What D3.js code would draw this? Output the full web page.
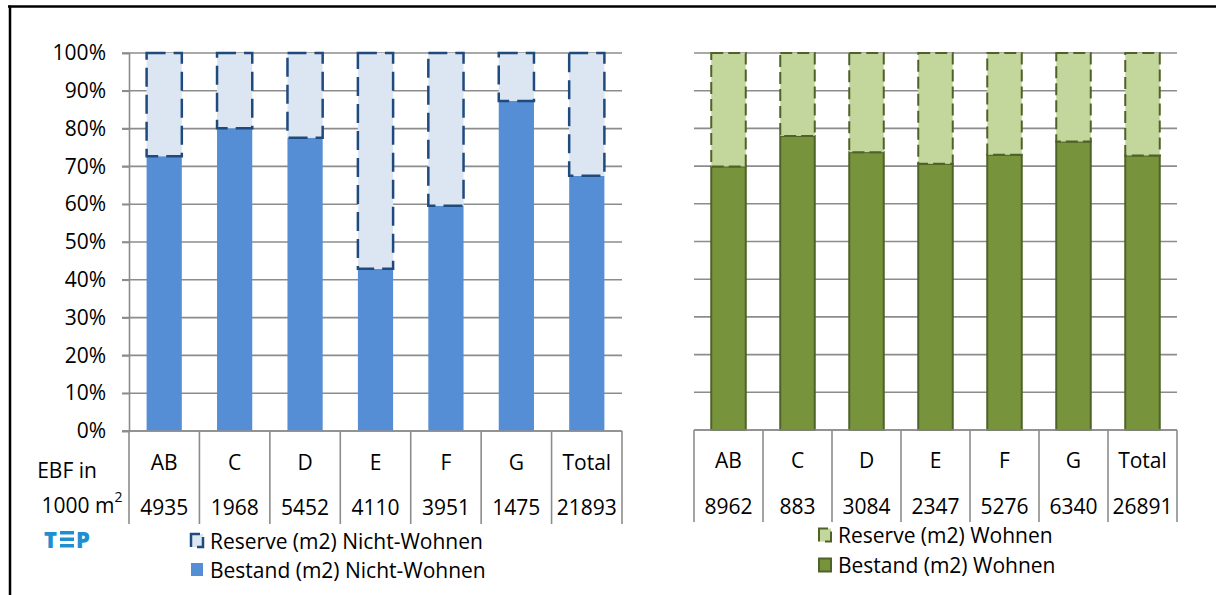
<!DOCTYPE html>
<html>
<head>
<meta charset="utf-8">
<script src="https://cdn.jsdelivr.net/npm/d3@7"></script>
<style>
  html, body { margin: 0; padding: 0; background: #fff; }
  svg { display: block; }
  text { font-family: "Open Sans", Lato, sans-serif; fill: #000; }
</style>
</head>
<body>
<svg id="chart" width="1216" height="595"></svg>
<script>
// Energiebezugsfläche nach Zone: Anteil Bestand / Reserve (in %)
const categories = ["AB", "C", "D", "E", "F", "G", "Total"];
const yTicks = [0, 10, 20, 30, 40, 50, 60, 70, 80, 90, 100];

const ebfNichtWohnen = [4935, 1968, 5452, 4110, 3951, 1475, 21893];
const bestandNichtWohnen = [72.7, 80.1, 77.6, 42.9, 59.6, 87.3, 67.5];
const reserveNichtWohnen = [27.3, 19.9, 22.4, 57.1, 40.4, 12.7, 32.5];

const ebfWohnen = [8962, 883, 3084, 2347, 5276, 6340, 26891];
const bestandWohnen = [69.9, 78.0, 73.7, 70.6, 73.0, 76.5, 72.8];
const reserveWohnen = [30.1, 22.0, 26.3, 29.4, 27.0, 23.5, 27.2];

const svg = d3.select("#chart");
const FONT = 21;
const FAMILY = "'Open Sans', Lato, sans-serif";

// outer frame (top and left edges)
svg.append("line").attr("x1", 8).attr("x2", 1216).attr("y1", 6.5).attr("y2", 6.5)
  .attr("stroke", "#000").attr("stroke-width", 2.5);
svg.append("line").attr("x1", 10).attr("x2", 10).attr("y1", 5.5).attr("y2", 595)
  .attr("stroke", "#000").attr("stroke-width", 2.5);

function panel(opt) {
  const g = svg.append("g");
  const x = d3.scaleBand().domain(categories).range([opt.x0, opt.x1]).paddingInner(0).paddingOuter(0);
  const y = d3.scaleLinear().domain([0, 100]).range([opt.yBottom, opt.yTop]);

  // horizontal gridlines
  const gridX0 = opt.showAxis ? opt.x0 - 7 : opt.x0;
  g.append("g").selectAll("line").data(yTicks).join("line")
    .attr("x1", gridX0).attr("x2", opt.x1)
    .attr("y1", d => y(d)).attr("y2", d => y(d))
    .attr("stroke", "#8c8c8c").attr("stroke-width", 1.6);

  if (opt.showAxis) {
    const axis = d3.axisLeft(y).tickValues(yTicks).tickFormat(d => d + "%").tickSize(7).tickPadding(16);
    const ag = g.append("g").attr("transform", `translate(${opt.x0},0)`).call(axis);
    ag.select(".domain").attr("stroke", "#8c8c8c").attr("stroke-width", 1.6);
    ag.selectAll(".tick line").attr("stroke", "#8c8c8c").attr("stroke-width", 1.6);
    ag.selectAll(".tick text").attr("font-size", FONT).attr("font-family", FAMILY).attr("fill", "#000");
  }

  const bw = x.bandwidth() * 0.5;
  const bx = d => x(d) + (x.bandwidth() - bw) / 2;

  // Bestand (bottom segment)
  g.append("g").selectAll("rect").data(categories).join("rect")
    .attr("x", bx)
    .attr("y", (d, i) => y(opt.bestand[i]))
    .attr("width", bw)
    .attr("height", (d, i) => y(0) - y(opt.bestand[i]))
    .attr("fill", opt.bestandFill)
    .attr("stroke", opt.bestandStroke)
    .attr("stroke-width", opt.bestandStrokeW);

  // Reserve (top segment, dashed outline)
  g.append("g").selectAll("rect").data(categories).join("rect")
    .attr("x", bx)
    .attr("y", (d, i) => y(opt.bestand[i] + opt.reserve[i]))
    .attr("width", bw)
    .attr("height", (d, i) => y(opt.bestand[i]) - y(opt.bestand[i] + opt.reserve[i]))
    .attr("fill", opt.reserveFill)
    .attr("stroke", opt.reserveStroke)
    .attr("stroke-width", opt.reserveStrokeW)
    .attr("stroke-dasharray", opt.dash);

  // data table below the axis
  const dividers = categories.map(c => x(c)).concat([opt.x1]);
  g.append("g").selectAll("line").data(dividers).join("line")
    .attr("x1", d => d).attr("x2", d => d)
    .attr("y1", opt.yBottom).attr("y2", opt.tableBottom)
    .attr("stroke", "#8c8c8c").attr("stroke-width", 1.6);

  // axis baseline
  g.append("line").attr("x1", gridX0).attr("x2", opt.x1)
    .attr("y1", y(0)).attr("y2", y(0))
    .attr("stroke", "#8c8c8c").attr("stroke-width", 1.6);

  g.append("g").selectAll("text").data(categories).join("text")
    .attr("x", d => x(d) + x.bandwidth() / 2)
    .attr("y", opt.catY)
    .attr("text-anchor", "middle").attr("dominant-baseline", "central")
    .attr("font-size", FONT)
    .text(d => d);

  g.append("g").selectAll("text").data(categories).join("text")
    .attr("x", d => x(d) + x.bandwidth() / 2)
    .attr("y", opt.numY)
    .attr("text-anchor", "middle").attr("dominant-baseline", "central")
    .attr("font-size", FONT)
    .text((d, i) => opt.ebf[i]);

  // legend
  const lg = g.append("g");
  lg.append("rect").attr("x", opt.legX).attr("y", opt.legY1 - 6.5).attr("width", 12).attr("height", 13)
    .attr("fill", opt.reserveFill).attr("stroke", opt.reserveStroke).attr("stroke-width", opt.reserveStrokeW)
    .attr("stroke-dasharray", "16,6").attr("stroke-dashoffset", 7);
  lg.append("text").attr("x", opt.legX + 19).attr("y", opt.legY1)
    .attr("dominant-baseline", "central").attr("font-size", FONT).text(opt.reserveLabel);
  lg.append("rect").attr("x", opt.legX).attr("y", opt.legY2 - 6.5).attr("width", 12).attr("height", 13)
    .attr("fill", opt.bestandFill).attr("stroke", opt.bestandStroke).attr("stroke-width", opt.bestandStrokeW);
  lg.append("text").attr("x", opt.legX + 19).attr("y", opt.legY2)
    .attr("dominant-baseline", "central").attr("font-size", FONT).text(opt.bestandLabel);
}

panel({
  x0: 129, x1: 622, yTop: 53, yBottom: 431, tableBottom: 524,
  showAxis: true,
  bestand: bestandNichtWohnen, reserve: reserveNichtWohnen, ebf: ebfNichtWohnen,
  bestandFill: "#558ed5", bestandStroke: "none", bestandStrokeW: 0,
  reserveFill: "#dce6f2", reserveStroke: "#1f4a7e", reserveStrokeW: 2.5, dash: "19,8",
  catY: 462, numY: 507,
  legX: 191, legY1: 540.5, legY2: 569.5,
  reserveLabel: "Reserve (m2) Nicht-Wohnen", bestandLabel: "Bestand (m2) Nicht-Wohnen"
});

panel({
  x0: 694, x1: 1177, yTop: 53, yBottom: 430, tableBottom: 522,
  showAxis: false,
  bestand: bestandWohnen, reserve: reserveWohnen, ebf: ebfWohnen,
  bestandFill: "#77933c", bestandStroke: "#4f6228", bestandStrokeW: 2,
  reserveFill: "#c3d69b", reserveStroke: "#4f6228", reserveStrokeW: 2, dash: "12,5",
  catY: 460, numY: 506,
  legX: 819, legY1: 535, legY2: 565,
  reserveLabel: "Reserve (m2) Wohnen", bestandLabel: "Bestand (m2) Wohnen"
});

// row header of the left table
const hdr = svg.append("g");
hdr.append("text").attr("x", 67).attr("y", 470).attr("text-anchor", "middle")
  .attr("dominant-baseline", "central").attr("font-size", FONT).text("EBF in");
const t2 = hdr.append("text").attr("x", 82).attr("y", 505).attr("text-anchor", "middle")
  .attr("dominant-baseline", "central").attr("font-size", FONT);
t2.append("tspan").text("1000 m");
t2.append("tspan").attr("font-size", 14).attr("dy", -9).text("2");

// TEP mark
const logo = svg.append("g").attr("fill", "#1e8fd0");
logo.append("text").attr("x", 44).attr("y", 547.5).attr("font-size", 22).attr("font-weight", 800)
  .attr("font-family", FAMILY).style("fill", "#1e8fd0").text("T");
[531, 537.5, 544].forEach(yy => {
  logo.append("rect").attr("x", 60).attr("y", yy).attr("width", 14).attr("height", 3.5);
});
logo.append("text").attr("x", 76).attr("y", 547.5).attr("font-size", 22).attr("font-weight", 800)
  .attr("font-family", FAMILY).style("fill", "#1e8fd0").text("P");
</script>
</body>
</html>
